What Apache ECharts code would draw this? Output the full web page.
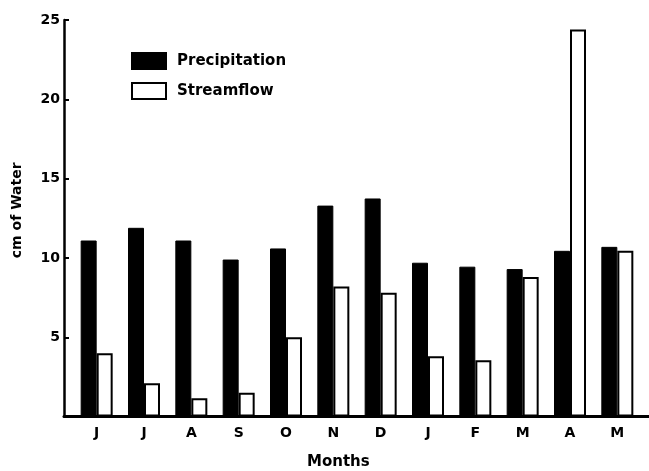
<!DOCTYPE html>
<html>
<head>
<meta charset="utf-8">
<script src="https://cdn.jsdelivr.net/npm/echarts@6/dist/echarts.min.js"></script>
<style>html,body{margin:0;padding:0;background:#fff;}#c{width:649px;height:471px;}</style>
</head>
<body>
<div id="c"></div>
<script>
const months = ['J','J','A','S','O','N','D','J','F','M','A','M'];
const precipitation = [11.1, 11.9, 11.1, 9.9, 10.6, 13.3, 13.75, 9.7, 9.45, 9.3, 10.45, 10.7];
const streamflow = [4.0, 2.1, 1.15, 1.5, 5.0, 8.2, 7.8, 3.8, 3.55, 8.8, 24.4, 10.45];
const yTicks = [0, 5, 10, 15, 20, 25];

const FONT = 'DejaVu Sans';
const chart = echarts.init(document.getElementById('c'), null, {renderer: 'canvas'});
chart.setOption({
  animation: false,
  backgroundColor: '#fff',
  title: {
    text: 'Months', left: 302, top: 450,
    textStyle: {fontFamily: FONT, fontWeight: 'bold', fontSize: 15, color: '#000'}
  },
  legend: {
    orient: 'vertical', left: 126, top: 47,
    itemWidth: 34, itemHeight: 16, itemGap: 12,
    icon: 'rect',
    textStyle: {fontFamily: FONT, fontWeight: 'bold', fontSize: 15, color: '#000', padding: [0, 0, 0, 6]},
    data: ['Precipitation', 'Streamflow']
  },
  grid: [
    {left: 64, right: 0, top: 20, bottom: 54.4},
    {left: 73, right: 8, top: 20, bottom: 54.4}
  ],
  xAxis: [
    {type: 'value', gridIndex: 0, min: 0, max: 1,
     axisLine: {show: true, lineStyle: {color: '#000', width: 3}},
     axisTick: {show: false}, axisLabel: {show: false}, splitLine: {show: false}},
    {type: 'category', gridIndex: 1, data: months,
     axisLine: {show: false}, axisTick: {show: false}, splitLine: {show: false},
     axisLabel: {margin: 10, fontFamily: FONT, fontWeight: 'bold', fontSize: 14, color: '#000'}}
  ],
  yAxis: [
    {type: 'value', gridIndex: 0, min: yTicks[0], max: yTicks[yTicks.length - 1], interval: 5,
     name: 'cm of Water', nameLocation: 'middle', nameGap: 40, nameRotate: 90,
     nameTextStyle: {fontFamily: FONT, fontWeight: 'bold', fontSize: 14, color: '#000', padding: [0, 0, 0, 16]},
     axisLine: {show: true, lineStyle: {color: '#000', width: 2.5}},
     axisTick: {show: true, inside: true, length: 5, lineStyle: {color: '#000', width: 2}},
     axisLabel: {showMinLabel: false, margin: 4, fontFamily: FONT, fontWeight: 'bold', fontSize: 14, color: '#000'},
     splitLine: {show: false}},
    {type: 'value', gridIndex: 1, min: yTicks[0], max: yTicks[yTicks.length - 1], show: false, splitLine: {show: false}}
  ],
  series: [
    {name: 'Precipitation', type: 'bar', xAxisIndex: 1, yAxisIndex: 1, data: precipitation,
     barWidth: 16, barGap: '0%',
     itemStyle: {color: '#000', borderColor: '#000', borderWidth: 1}},
    {name: 'Streamflow', type: 'bar', xAxisIndex: 1, yAxisIndex: 1, data: streamflow,
     barWidth: 16, barGap: '0%',
     itemStyle: {color: '#fff', borderColor: '#000', borderWidth: 2}}
  ]
});
</script>
</body>
</html>
